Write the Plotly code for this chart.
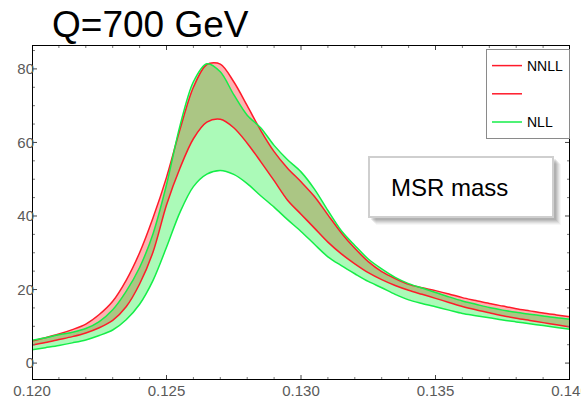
import plotly.graph_objects as go

# Thrust-like distribution at Q = 700 GeV, MSR mass scheme: NNLL and NLL uncertainty bands
x = [0.1200, 0.1205, 0.1210, 0.1215, 0.1220, 0.1225, 0.1230, 0.1235, 0.1240, 0.1245,
     0.1250, 0.1255, 0.1260, 0.1265, 0.1270, 0.1275, 0.1280, 0.1285, 0.1290, 0.1295,
     0.1300, 0.1305, 0.1310, 0.1315, 0.1320, 0.1325, 0.1330, 0.1335, 0.1340, 0.1345,
     0.1350, 0.1355, 0.1360, 0.1365, 0.1370, 0.1375, 0.1380, 0.1385, 0.1390, 0.1395,
     0.1400]

nnll_hi = [6.0, 6.9, 7.9, 9.1, 10.6, 13.2, 16.8, 22.5, 30.0, 39.5,
           50.5, 63.5, 75.0, 81.2, 81.3, 76.5, 70.0, 63.3, 57.5, 53.0,
           49.3, 45.3, 40.3, 35.4, 31.2, 27.6, 24.9, 23.0, 21.4, 20.5,
           19.7, 18.8, 17.8, 17.0, 16.2, 15.5, 14.8, 14.2, 13.6, 13.1,
           12.6]
nnll_lo = [4.9, 5.6, 6.4, 7.2, 8.2, 9.6, 11.6, 15.3, 21.5, 30.2,
           43.0, 53.0, 61.0, 65.5, 66.3, 64.0, 59.8, 54.8, 49.6, 44.3,
           40.5, 36.7, 32.9, 29.7, 27.0, 24.6, 22.7, 21.1, 19.8, 18.7,
           17.6, 16.5, 15.4, 14.5, 13.7, 12.9, 12.2, 11.6, 11.0, 10.4,
           9.8]
nll_hi = [6.2, 6.9, 7.7, 8.4, 9.4, 11.3, 14.5, 19.5, 26.0, 35.2,
          48.5, 64.5, 76.5, 81.4, 79.2, 73.0, 67.4, 64.0, 59.2, 55.3,
          52.0, 47.3, 41.5, 36.0, 32.0, 28.3, 25.6, 23.3, 21.6, 20.4,
          19.2, 18.0, 16.9, 16.0, 15.1, 14.4, 13.8, 13.3, 12.8, 12.3,
          11.9]
nll_lo = [3.6, 4.2, 4.8, 5.5, 6.3, 7.5, 9.0, 11.8, 16.0, 22.5,
          31.5, 41.0, 48.0, 51.4, 52.4, 51.3, 48.8, 45.5, 42.4, 39.0,
          35.8, 32.3, 28.9, 26.5, 24.3, 22.2, 20.5, 18.7, 17.2, 16.2,
          15.3, 14.4, 13.5, 12.9, 12.3, 11.7, 11.2, 10.7, 10.2, 9.7,
          9.2]

x_range = [0.120, 0.140]
y_range = [-4.6, 86.5]
x_major, x_minor = 0.005, 0.001
y_major, y_minor = 20, 5

RED = "#ff1a2a"
GREEN = "#14ee48"
FONT = "Liberation Sans, Arial, sans-serif"

W, H = 581, 398
ML, MR, MT, MB = 32, 11, 45, 18
PW, PH = W - ML - MR, H - MT - MB


def px(p):
    return (p - ML) / PW


def py(p):
    return (H - MB - p) / PH


fig = go.Figure()

spl = dict(shape="spline", smoothing=0.9)

# bands: pink NNLL underneath, translucent green NLL above it
fig.add_trace(go.Scatter(x=x, y=nnll_lo, mode="lines", line=dict(width=0, **spl),
                         showlegend=False, hoverinfo="skip"))
fig.add_trace(go.Scatter(x=x, y=nnll_hi, mode="lines", line=dict(width=0, **spl),
                         fill="tonexty", fillcolor="rgba(255,0,0,0.30)",
                         showlegend=False, hoverinfo="skip"))
fig.add_trace(go.Scatter(x=x, y=nll_lo, mode="lines", line=dict(width=0, **spl),
                         showlegend=False, hoverinfo="skip"))
fig.add_trace(go.Scatter(x=x, y=nll_hi, mode="lines", line=dict(width=0, **spl),
                         fill="tonexty", fillcolor="rgba(0,240,40,0.33)",
                         showlegend=False, hoverinfo="skip"))

# band edges
fig.add_trace(go.Scatter(x=x, y=nnll_hi, mode="lines", name="NNLL",
                         line=dict(color=RED, width=1.5, **spl), legendgroup="a"))
fig.add_trace(go.Scatter(x=x, y=nnll_lo, mode="lines", name=" ",
                         line=dict(color=RED, width=1.5, **spl), legendgroup="b"))
fig.add_trace(go.Scatter(x=x, y=nll_hi, mode="lines", name="NLL",
                         line=dict(color=GREEN, width=1.5, **spl), legendgroup="c"))
fig.add_trace(go.Scatter(x=x, y=nll_lo, mode="lines", showlegend=False,
                         line=dict(color=GREEN, width=1.5, **spl), legendgroup="c"))


# frame with inward major/minor ticks on all four sides
def tick_values(lo, hi, step):
    n0 = int(round(lo / step + 0.4999))
    n1 = int(round(hi / step - 0.4999))
    return [k * step for k in range(n0, n1 + 1)]


x0, x1 = x_range
y0, y1 = y_range
xspan, yspan = x1 - x0, y1 - y0
ticks = {True: ([], []), False: ([], [])}
for v in tick_values(x0, x1, x_minor):
    major = abs(v / x_major - round(v / x_major)) < 1e-6
    ln = (5 if major else 3) / PH * yspan
    tx, ty = ticks[major]
    tx += [v, v, None, v, v, None]
    ty += [y0, y0 + ln, None, y1, y1 - ln, None]
for v in tick_values(y0, y1, y_minor):
    major = v % y_major == 0
    ln = (5 if major else 3) / PW * xspan
    tx, ty = ticks[major]
    tx += [x0, x0 + ln, None, x1, x1 - ln, None]
    ty += [v, v, None, v, v, None]

for major, col in [(False, "#777777"), (True, "#444444")]:
    tx, ty = ticks[major]
    fig.add_trace(go.Scatter(x=tx, y=ty, mode="lines", line=dict(color=col, width=1),
                             showlegend=False, hoverinfo="skip", cliponaxis=False))

fig.add_trace(go.Scatter(x=[x0, x1, x1, x0, x0], y=[y0, y0, y1, y1, y0], mode="lines",
                         line=dict(color="black", width=2), showlegend=False,
                         hoverinfo="skip", cliponaxis=False))

tickfont = dict(family=FONT, size=15, color="#5a5a5a")
axis_common = dict(showline=False, showgrid=False, zeroline=False, ticks="",
                   automargin=False, tickfont=tickfont)
fig.update_xaxes(range=x_range, tick0=0.120, dtick=x_major, tickformat=".3f",
                 ticklabelstandoff=0, ticklabeloverflow="allow", **axis_common)
fig.update_yaxes(range=y_range, tick0=0, dtick=y_major,
                 ticklabelstandoff=-3, **axis_common)

# "MSR mass" label box with a soft drop shadow
shapes = []
bx0, bx1, by0, by1 = 369, 553, 157, 217
for d, a in [(8, 0.04), (7, 0.06), (6, 0.08), (5, 0.09), (4, 0.10), (3, 0.10)]:
    shapes.append(dict(type="rect", xref="paper", yref="paper",
                       x0=px(bx0 + d - 1), x1=px(bx1 + d), y0=py(by1 + d), y1=py(by0 + d - 1),
                       line=dict(width=0), fillcolor=f"rgba(60,60,60,{a})"))
shapes.append(dict(type="rect", xref="paper", yref="paper",
                   x0=px(bx0), x1=px(bx1), y0=py(by1), y1=py(by0),
                   line=dict(color="#cfcfcf", width=2), fillcolor="white"))

fig.update_layout(
    width=W, height=H,
    margin=dict(l=ML, r=MR, t=MT, b=MB, autoexpand=False),
    paper_bgcolor="white", plot_bgcolor="white",
    title=dict(text="Q=700 GeV", xref="container", yref="container",
               x=52 / W, xanchor="left", y=1 - 24 / H, yanchor="middle",
               font=dict(family=FONT, size=37, color="black")),
    legend=dict(x=px(486), y=py(49), xanchor="left", yanchor="top",
                bordercolor="#8a8a8a", borderwidth=1, bgcolor="white",
                font=dict(family=FONT, size=14, color="black"),
                traceorder="grouped", tracegroupgap=7),
    shapes=shapes,
    annotations=[dict(text="MSR mass", xref="paper", yref="paper",
                      x=px(389), y=py(187), xanchor="left", yanchor="middle",
                      showarrow=False, font=dict(family=FONT, size=24, color="black"))],
)

fig.write_html("out.html")
